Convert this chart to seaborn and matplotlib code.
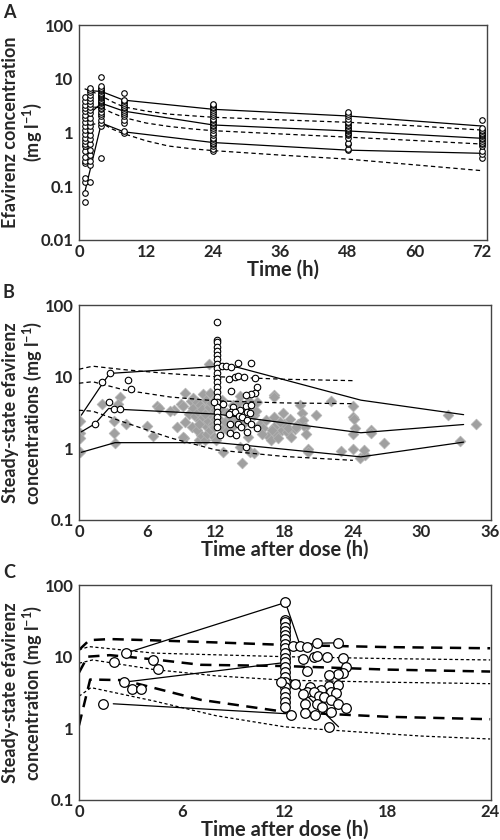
import numpy as np
import pandas as pd
import matplotlib
matplotlib.use("Agg")
import matplotlib.pyplot as plt
import seaborn as sns
from matplotlib.ticker import FixedLocator, FixedFormatter, NullLocator

# ---------------- Panel A data ----------------
a_times_obs = [1, 2, 4, 8, 24, 48, 72]
a_obs_t1 = [0.05, 0.075, 0.12, 0.14, 0.27, 0.3, 0.35, 0.45, 0.55, 0.6, 0.7, 0.8, 0.95, 1.1, 1.3, 1.6, 1.9, 2.1, 2.5, 2.9, 3.3, 3.8, 4.5]
a_obs_t2 = [0.12, 0.25, 0.3, 0.38, 0.48, 0.6, 0.75, 0.9, 1.1, 1.3, 1.6, 1.9, 2.3, 2.6, 3.0, 3.4, 3.9, 4.4, 5.0, 5.6, 6.3, 6.8]
a_obs_t4 = [0.33, 1.3, 1.5, 1.7, 2.0, 2.2, 2.4, 2.7, 2.9, 3.1, 3.3, 3.5, 3.7, 3.9, 4.1, 4.3, 4.5, 4.7, 4.9, 5.2, 5.5, 5.8, 6.1, 6.4, 6.8, 7.2, 11.0]
a_obs_t8 = [1.0, 1.05, 1.5, 1.7, 2.0, 2.2, 2.4, 2.6, 2.8, 3.0, 3.2, 3.5, 3.8, 4.1, 5.5]
a_obs_t24 = [0.45, 0.5, 0.55, 0.6, 0.65, 0.7, 0.75, 0.8, 0.9, 1.0, 1.1, 1.2, 1.3, 1.4, 1.5, 1.6, 1.7, 1.8, 2.0, 2.2, 2.4, 2.6, 2.8, 3.0, 3.2, 3.4]
a_obs_t48 = [0.47, 0.5, 0.6, 0.65, 0.8, 0.9, 0.95, 1.0, 1.05, 1.1, 1.15, 1.2, 1.3, 1.4, 1.5, 1.6, 1.8, 2.0, 2.2, 2.4]
a_obs_t72 = [0.33, 0.4, 0.45, 0.55, 0.6, 0.65, 0.7, 0.75, 0.8, 0.85, 0.9, 0.95, 1.0, 1.05, 1.1, 1.2, 1.7]

a_top_t = [2, 4, 8, 24, 48, 72]
a_top_v = [6.0, 5.8, 4.0, 2.7, 2.03, 1.32]
a_mid_t = [2, 4, 8, 24, 48, 72]
a_mid_v = [2.3, 3.5, 2.5, 1.38, 1.07, 0.78]
a_bot_t = [1, 4, 8, 24, 48, 72]
a_bot_v = [0.075, 1.5, 1.03, 0.65, 0.47, 0.41]

a_pred_t = [1, 2, 4, 6, 8, 12, 16, 20, 24, 36, 48, 60, 72]
a_pred_hi = [6.5, 6.0, 4.8, 3.7, 3.0, 2.5, 2.2, 2.05, 1.92, 1.72, 1.55, 1.33, 1.11]
a_pred_md = [2.0, 3.0, 2.9, 2.3, 1.9, 1.5, 1.3, 1.17, 1.08, 0.94, 0.82, 0.71, 0.61]
a_pred_lo = [0.8, 1.4, 1.5, 1.15, 0.95, 0.7, 0.56, 0.5, 0.46, 0.38, 0.32, 0.25, 0.195]

# ---------------- Steady-state observations (panels B and C) ----------------
ss_circ_t = [1.42, 2.04, 2.6, 2.73, 3.1, 3.6, 4.33, 4.6,
             12.05, 12.05, 12.05, 12.05, 12.05, 12.05, 12.05, 12.05, 12.05, 12.05, 12.05,
             12.05, 12.05, 12.05, 12.05, 12.05, 12.05, 12.05, 12.05, 12.05, 12.05,
             11.8,
             12.5, 12.9, 13.3, 13.9, 15.1, 13.1, 13.7, 13.9, 14.5, 15.4, 15.6, 13.3, 15.4, 15.1,
             14.6, 12.6, 14.6, 15.1, 13.5, 14.1, 13.3, 13.7, 14.7, 15.0, 13.1, 14.0, 14.3, 14.7,
             13.2, 15.1, 13.9, 14.2, 15.6, 14.7, 13.2, 13.8, 12.35, 14.6]
ss_circ_v = [2.2, 8.3, 4.4, 11.2, 3.5, 3.5, 9.0, 6.7,
             57, 33, 30, 26, 23, 20, 17.5, 15, 13.1, 11.4, 9.7,
             8.3, 7.1, 6.2, 5.25, 4.5, 3.8, 3.2, 2.7, 2.3, 2.0,
             4.4,
             14.1, 14.1, 13.6, 15.4, 15.6, 9.3, 10.0, 10.3, 10.0, 9.5, 7.2, 6.4, 6.0, 5.7,
             5.6, 4.2, 3.9, 4.0, 3.8, 3.4, 3.25, 3.2, 3.2, 3.1, 3.0, 2.8, 2.7, 2.5,
             2.2, 2.2, 2.2, 2.0, 1.9, 1.7, 1.65, 1.55, 1.55, 1.05]

# grey diamonds (panel B)
b_dia_t = [0.1, 0.1, 0.1, 0.1, 2.0, 3.6, 3.1, 3.1, 3.15, 4.1, 3.4,
           6.0, 6.5, 6.8, 7.0, 8.3, 8.55, 8.9, 9.1, 9.2, 9.3, 9.3, 9.1, 8.0,
           9.6, 9.8, 9.9, 10.0, 10.0, 10.2, 10.3, 10.4, 10.5, 10.6, 10.6, 10.7, 10.8, 10.9, 10.9,
           11.0, 11.0, 11.1, 11.2, 11.2, 11.3, 11.4, 11.4, 11.5, 11.6, 11.6, 11.7, 11.8, 11.8,
           11.9, 11.9, 12.0, 12.0, 11.5, 10.3, 12.0, 11.0, 10.5,
           12.3, 12.4, 12.5, 12.6, 12.6, 12.8, 13.0, 13.0, 13.2, 13.4, 13.5, 13.8, 14.0, 14.1,
           14.1, 14.3, 14.4, 14.6, 14.8, 14.9, 15.0, 15.3, 15.3, 15.5,
           15.6, 15.85, 16.1, 16.4, 16.6, 16.8, 17.1, 17.1, 17.1, 17.1, 17.3, 17.4, 17.75, 17.9,
           18.0, 18.2, 18.5, 18.6, 18.9, 19.2, 19.4, 19.5, 19.65, 19.8, 19.9, 20.1, 20.1, 20.8,
           18.3, 16.9, 16.0, 17.6, 19.0,
           22.1, 23.0, 24.0, 24.0, 24.2, 24.0, 24.0, 24.1, 24.6, 25.1, 25.0, 25.55, 25.55, 26.7,
           32.35, 33.4, 34.8]
b_dia_v = [2.4, 1.65, 1.38, 0.9, 4.2, 5.2, 2.4, 1.65, 1.2, 2.2, 4.1,
           2.05, 1.5, 3.9, 3.6, 3.4, 2.0, 4.2, 3.9, 1.4, 5.9, 2.35, 1.45, 3.3,
           3.0, 4.6, 2.0, 5.0, 3.6, 2.8, 4.5, 3.2, 1.3, 4.0, 2.5, 1.55, 3.5, 5.8, 2.75,
           1.3, 2.1, 4.8, 3.2, 1.6, 2.4, 14.9, 3.8, 1.8, 2.9, 4.3, 2.2, 2.0, 1.45,
           3.4, 2.6, 5.0, 1.3, 6.0, 1.8, 3.0, 3.0, 2.2,
           2.6, 3.5, 4.8, 1.9, 0.9, 2.3, 3.1, 1.8, 2.7, 2.0, 4.0, 2.4, 4.4, 5.4,
           1.05, 0.63, 2.2, 3.5, 1.45, 4.6, 0.9, 0.85, 2.9, 3.3,
           4.5, 2.2, 1.9, 2.5, 1.5, 1.3, 5.5, 5.2, 2.75, 2.0, 1.6, 1.4, 1.8, 3.1,
           2.2, 1.7, 2.6, 1.45, 1.85, 2.2, 4.0, 3.1, 2.5, 2.0, 1.6, 0.98, 0.9, 2.9,
           1.95, 1.8, 1.6, 2.3, 2.0,
           4.6, 0.93, 3.9, 2.75, 1.9, 1.6, 0.99, 2.6, 0.73, 0.8, 0.95, 1.8, 1.65, 1.2,
           2.9, 1.25, 2.2]

# panel B solid lines
b_top_t = [0.2, 2.1, 2.7, 12.1, 13.9, 24.7, 33.7]
b_top_v = [2.9, 8.2, 11.1, 13.9, 13.5, 4.7, 2.95]
b_mid_t = [0.2, 1.4, 2.6, 3.6, 12.1, 24.7, 33.7]
b_mid_v = [1.7, 2.2, 3.6, 3.5, 3.0, 1.65, 2.15]
b_bot_t = [0.2, 3.15, 12.1, 14.6, 24.7, 33.7]
b_bot_v = [0.88, 1.2, 1.2, 1.1, 0.76, 1.22]
# panel B dashed (predicted)
b_pred_t = [0, 1.2, 4, 8, 12, 18, 24]
b_pred_hi = [12.7, 14.0, 12.5, 11.0, 10.0, 9.2, 8.8]
b_pred_md = [8.1, 8.5, 6.5, 5.2, 4.6, 4.3, 4.2]
b_pred_lo = [3.4, 3.3, 2.3, 1.4, 0.95, 0.77, 0.68]

# panel C thick dashed
c_thk_hi_t = [0, 0.6, 1.8, 4, 8, 12, 18, 24]
c_thk_hi_v = [12.4, 17.0, 17.6, 17.0, 15.8, 14.6, 13.6, 13.1]
c_thk_md_t = [0, 0.5, 1.8, 4.3, 7.1, 12, 18, 24]
c_thk_md_v = [6.0, 10.0, 10.5, 9.2, 7.7, 7.4, 6.6, 6.2]
c_thk_lo_t = [0, 0.65, 2.6, 7.1, 12, 18, 24]
c_thk_lo_v = [1.1, 4.8, 4.7, 2.5, 1.7, 1.45, 1.34]
# panel C thin dashed
c_thn_hi_t = [0, 0.6, 4.4, 12, 18, 24]
c_thn_hi_v = [12.5, 13.8, 11.2, 10.0, 9.4, 9.0]
c_thn_md_t = [0, 0.8, 4.4, 8, 12, 18, 24]
c_thn_md_v = [8.1, 9.0, 6.6, 5.4, 4.7, 4.4, 4.2]
c_thn_lo_t = [0, 0.7, 4.4, 8, 12, 16, 20, 24]
c_thn_lo_v = [2.8, 3.7, 2.4, 1.5, 1.05, 0.9, 0.78, 0.71]
# panel C individual solid lines
c_ind1_t = [2.6, 12.05]
c_ind1_v = [4.4, 8.3]
c_ind2_t = [2.73, 12.05, 12.9, 13.9, 15.1]
c_ind2_v = [11.2, 57, 14.5, 15.4, 15.6]
c_ind3_t = [2.0, 12.1]
c_ind3_v = [2.2, 1.6]
c_ind4_t = [12.2, 15.15]
c_ind4_v = [5.2, 1.05]

# ---------------- style ----------------
sns.set_style("white")
plt.rcParams['font.family'] = ['Lato', 'DejaVu Sans']
plt.rcParams['font.weight'] = 'bold'
plt.rcParams['mathtext.fontset'] = 'custom'
plt.rcParams['mathtext.rm'] = 'Lato:bold'
plt.rcParams['mathtext.it'] = 'Lato:bold'
plt.rcParams['mathtext.bf'] = 'Lato:bold'

fig = plt.figure(figsize=(5.0, 8.4), dpi=100)
axA = fig.add_axes([79/500, 600/840, 408/500, 215/840])
axB = fig.add_axes([79/500, 320/840, 412/500, 215/840])
axC = fig.add_axes([79/500, 40/840, 412/500, 215/840])


def line(ax, t, v, lw=0.8, dashes=None, color='black', z=2):
    n0 = len(ax.lines)
    sns.lineplot(x=t, y=v, ax=ax, color=color, lw=lw, estimator=None, sort=False, zorder=z)
    ln = ax.lines[n0]
    if dashes is not None:
        ln.set_dashes(dashes)
    return ln


# ---- Panel A ----
a_t = []
a_v = []
for tt, vals in zip(a_times_obs, [a_obs_t1, a_obs_t2, a_obs_t4, a_obs_t8, a_obs_t24, a_obs_t48, a_obs_t72]):
    a_t += [tt] * len(vals)
    a_v += vals
for tt, vv in [(a_top_t, a_top_v), (a_mid_t, a_mid_v), (a_bot_t, a_bot_v)]:
    line(axA, tt, vv, lw=0.9)
for vv in [a_pred_hi, a_pred_md, a_pred_lo]:
    line(axA, a_pred_t, vv, lw=0.9, dashes=(3.5, 2.5))
sns.scatterplot(x=a_t, y=a_v, ax=axA, marker='o', s=16, facecolor='white',
                edgecolor='black', linewidth=0.8, zorder=3)

# ---- Panel B ----
sns.scatterplot(x=b_dia_t, y=b_dia_v, ax=axB, marker='D', s=30, color='#a0a0a0',
                edgecolor='#b4b4b4', linewidth=0.5, zorder=2)
for tt, vv in [(b_top_t, b_top_v), (b_mid_t, b_mid_v), (b_bot_t, b_bot_v)]:
    line(axB, tt, vv, lw=0.9, z=3)
for vv in [b_pred_hi, b_pred_md, b_pred_lo]:
    line(axB, b_pred_t, vv, lw=0.9, dashes=(3.5, 2.5), z=3)
sns.scatterplot(x=ss_circ_t, y=ss_circ_v, ax=axB, marker='o', s=22, facecolor='white',
                edgecolor='black', linewidth=0.8, zorder=4)

# ---- Panel C ----
for tt, vv in [(c_thk_hi_t, c_thk_hi_v), (c_thk_md_t, c_thk_md_v), (c_thk_lo_t, c_thk_lo_v)]:
    line(axC, tt, vv, lw=1.8, dashes=(4.5, 3))
for tt, vv in [(c_thn_hi_t, c_thn_hi_v), (c_thn_md_t, c_thn_md_v), (c_thn_lo_t, c_thn_lo_v)]:
    line(axC, tt, vv, lw=0.9, dashes=(2.5, 2))
for tt, vv in [(c_ind1_t, c_ind1_v), (c_ind2_t, c_ind2_v), (c_ind3_t, c_ind3_v), (c_ind4_t, c_ind4_v)]:
    line(axC, tt, vv, lw=0.9, z=3)
sns.scatterplot(x=ss_circ_t, y=ss_circ_v, ax=axC, marker='o', s=48, facecolor='white',
                edgecolor='black', linewidth=0.9, zorder=4)

# ---- axes formatting ----
def fmt(ax, xmax, xticks, yticks, ylabels, ylim, xlabel, ylabel, width_px):
    ax.set_yscale('log')
    ax.set_xlim(0, xmax)
    ax.set_ylim(*ylim)
    ax.xaxis.set_major_locator(FixedLocator(xticks))
    ax.xaxis.set_major_formatter(FixedFormatter([str(x) for x in xticks]))
    ax.yaxis.set_major_locator(FixedLocator(yticks))
    ax.yaxis.set_major_formatter(FixedFormatter(ylabels))
    ax.yaxis.set_minor_locator(NullLocator())
    ax.tick_params(axis='x', length=0, pad=3, labelsize=12)
    ax.tick_params(axis='y', direction='in', length=3, width=0.8, color='#888888',
                   pad=4, labelsize=12)
    for lab in ax.get_xticklabels() + ax.get_yticklabels():
        lab.set_fontweight('bold')
    for sp in ax.spines.values():
        sp.set_color('#444444')
        sp.set_linewidth(1.0)
        sp.set_visible(True)
    ax.set_xlabel(xlabel, fontsize=14.5, fontweight='bold', labelpad=0)
    ax.set_ylabel(ylabel, fontsize=13, fontweight='bold', linespacing=1.05,
                  ha='center', va='center')
    ax.yaxis.set_label_coords((23 - 79) / width_px, 0.5)

fmt(axA, 72.9, [0, 12, 24, 36, 48, 60, 72], [0.01, 0.1, 1, 10, 100],
    ['0.01', '0.1', '1', '10', '100'], (0.01, 100), 'Time (h)',
    'Efavirenz concentration\n(mg l$^{-1}$)', 408)
fmt(axB, 36.1, [0, 6, 12, 18, 24, 30, 36], [0.1, 1, 10, 100],
    ['0.1', '1', '10', '100'], (0.1, 100), 'Time after dose (h)',
    'Steady-state efavirenz\nconcentrations (mg l$^{-1}$)', 412)
fmt(axC, 24.05, [0, 6, 12, 18, 24], [0.1, 1, 10, 100],
    ['0.1', '1', '10', '100'], (0.1, 100), 'Time after dose (h)',
    'Steady-state efavirenz\nconcentration (mg l$^{-1}$)', 412)

for lbl, y in [('A', 840 - 12), ('B', 840 - 292), ('C', 840 - 572)]:
    fig.text(3 / 500, y / 840, lbl, fontsize=13, fontweight='bold', ha='left', va='center')

fig.savefig('out.png', dpi=100)
